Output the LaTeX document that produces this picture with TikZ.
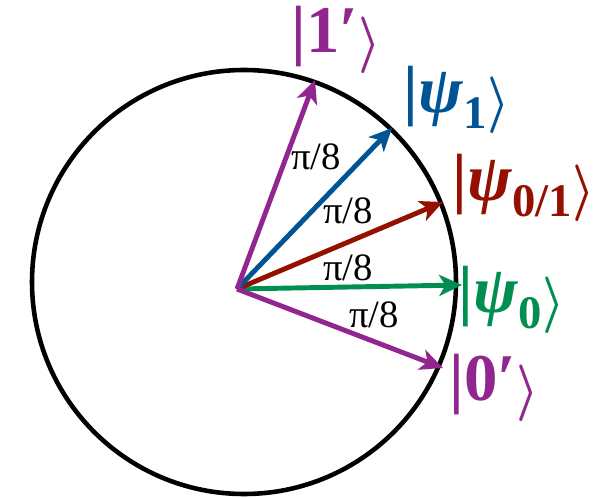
\documentclass[tikz,border=0pt]{standalone}
\usepackage{fontspec}
\setmainfont{Liberation Serif}
\usepackage{tikz}
\usetikzlibrary{arrows.meta}
\definecolor{KetPurple}{RGB}{146,38,143}
\definecolor{KetBlue}{RGB}{0,84,147}
\definecolor{KetRed}{RGB}{148,17,0}
\definecolor{KetGreen}{RGB}{0,143,81}
\newcommand{\kbar}{\textbar}
\newcommand{\kend}{\raisebox{-0.1em}{\scalebox{1.15}[1.3]{\boldmath$\rangle$}}}
\newcommand{\kprime}{\char"2032\relax}

\begin{document}
\begin{tikzpicture}
    \tikzset{
      vec/.style={line width=2.8pt,-{Stealth[length=13pt,width=12pt,inset=3.5pt]}},
      ket/.style={font=\fontsize{38}{38}\selectfont\bfseries,inner sep=0pt},
      ang/.style={font=\fontsize{22}{22}\selectfont,inner sep=0pt}
    }
    \useasboundingbox (0,0) rectangle (11.96,9.96);
    \draw[line width=2.6pt] (4.88,4.32) circle (4.24);
    % origin and tips
    \coordinate (o) at (4.74,4.18);
    \coordinate (t0) at (9.24,4.26);
    \coordinate (t01) at (8.86,5.92);
    \coordinate (t1) at (7.84,7.40);
    \coordinate (tone) at (6.30,8.36);
    \coordinate (tzero) at (8.86,2.60);
    \draw[vec,KetGreen] (o) -- (t0);
    \draw[vec,KetRed] (o) -- (t01);
    \draw[vec,KetBlue] (o) -- (t1);
    \draw[vec,KetPurple] (o) -- (tone);
    \draw[vec,KetPurple] (o) -- (tzero);
    % kets
    \node[ket,color=KetPurple] (kone) at (6.72,9.16) {\kbar 1\kprime\kend};
    \node[ket,color=KetBlue] (kpsi1) at (9.14,7.96) {\kbar\textit{ψ}\textsubscript{1}\kend};
    \node[ket,color=KetRed] (kpsi01) at (10.48,6.20) {\kbar\textit{ψ}\textsubscript{0/1}\kend};
    \node[ket,color=KetGreen] (kpsi0) at (10.24,3.96) {\kbar\textit{ψ}\textsubscript{0}\kend};
    \node[ket,color=KetPurple] (kzero) at (9.88,2.20) {\kbar 0\kprime\kend};
    % angles
    \node[ang] (a1) at (6.32,6.82) {π/8};
    \node[ang] (a2) at (6.96,5.74) {π/8};
    \node[ang] (a3) at (6.96,4.60) {π/8};
    \node[ang] (a4) at (7.48,3.66) {π/8};
  \end{tikzpicture}
\end{document}
